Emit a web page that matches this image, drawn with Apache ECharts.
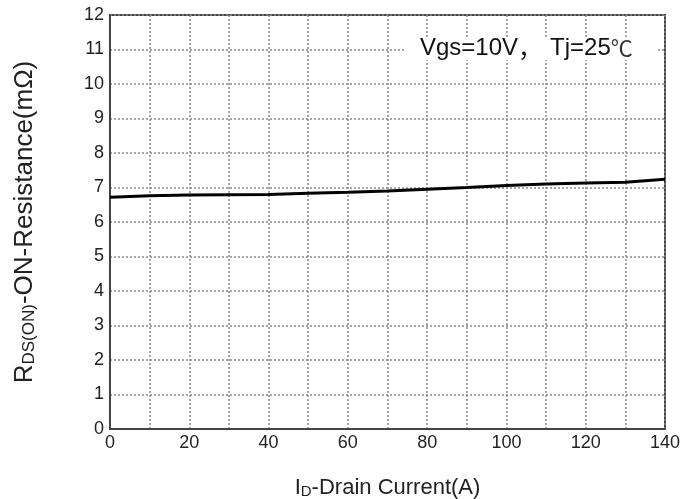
<!DOCTYPE html>
<html>
<head>
<meta charset="utf-8">
<script src="https://cdn.jsdelivr.net/npm/echarts@6/dist/echarts.min.js"></script>
<style>html,body{margin:0;padding:0;background:#fff}#c{width:698px;height:499px}</style>
</head>
<body>
<div id="c"></div>
<script>
var currentA = [0, 10, 20, 30, 40, 50, 60, 70, 80, 90, 100, 110, 120, 130, 140];
var resistance = [6.72, 6.76, 6.78, 6.79, 6.80, 6.83, 6.86, 6.90, 6.95, 7.00, 7.06, 7.10, 7.13, 7.15, 7.24];
var xTicks = [0, 20, 40, 60, 80, 100, 120, 140];
var yTicks = [0, 1, 2, 3, 4, 5, 6, 7, 8, 9, 10, 11, 12];
var annotation = ['Vgs=10V', '，', 'Tj=25', '℃'];

var chart = echarts.init(document.getElementById('c'), null, {renderer: 'canvas'});
var font = '"Liberation Sans", Arial, sans-serif';
var cjk = '"Noto Sans CJK SC", sans-serif';
var data = currentA.map(function (x, i) { return [x, resistance[i]]; });
chart.setOption({
  animation: false,
  backgroundColor: '#fff',
  grid: {left: 110, right: 33, top: 15, bottom: 70, outerBoundsMode: 'none', containLabel: false,
         show: true, borderColor: '#444', borderWidth: 2, backgroundColor: 'transparent'},
  xAxis: {
    type: 'value', min: 0, max: 140, interval: 10,
    axisLine: {show: true, lineStyle: {color: '#444', width: 2}},
    axisTick: {show: false},
    splitLine: {show: true, lineStyle: {color: '#888', type: [2, 2], width: 1.5}},
    axisLabel: {
      color: '#222', fontFamily: font, fontSize: 18, margin: 5,
      formatter: function (v) { return xTicks.indexOf(v) >= 0 ? String(v) : ''; }
    },
    name: '{n|I}{s|D}{n|-Drain Current(A)}',
    nameLocation: 'middle', nameGap: 47,
    nameTextStyle: {color: '#222', fontFamily: font, rich: {
      n: {fontSize: 22, fontFamily: font, color: '#222'},
      s: {fontSize: 15, fontFamily: font, color: '#222', padding: [8, 0, 0, 0]}
    }}
  },
  yAxis: {
    type: 'value', min: 0, max: 12, interval: 1,
    axisLine: {show: true, lineStyle: {color: '#444', width: 2}},
    axisTick: {show: false},
    splitLine: {show: true, lineStyle: {color: '#888', type: [2, 2], width: 1.5}},
    axisLabel: {
      color: '#222', fontFamily: font, fontSize: 18, margin: 6,
      formatter: function (v) { return yTicks.indexOf(v) >= 0 ? String(v) : ''; }
    },
    name: '{n|R}{s|DS(ON)}{n|-ON-Resistance(mΩ)}',
    nameLocation: 'middle', nameGap: 72, nameRotate: 90,
    nameTextStyle: {color: '#222', fontFamily: font, rich: {
      n: {fontSize: 26, fontFamily: font, color: '#222'},
      s: {fontSize: 17, fontFamily: font, color: '#222', padding: [9, 0, 0, 0]}
    }}
  },
  series: [{
    type: 'line', data: data, showSymbol: false,
    lineStyle: {color: '#000', width: 3}
  }],
  graphic: [{
    type: 'rect', z: 99, shape: {x: 404, y: 37, width: 254, height: 23},
    style: {fill: '#fff'}
  }, {
    type: 'text', x: 420, y: 48, z: 100,
    style: {
      text: '{n|' + annotation[0] + '}{c|' + annotation[1] + '}{n|' + annotation[2] + '}{d|' + annotation[3] + '}',
      verticalAlign: 'middle',
      rich: {
        n: {fontSize: 24, fontFamily: font, fill: '#111'},
        c: {fontSize: 24, fontFamily: cjk, fill: '#111', width: 32},
        d: {fontSize: 22, fontFamily: cjk, fill: '#333'}
      }
    }
  }]
});
</script>
</body>
</html>
